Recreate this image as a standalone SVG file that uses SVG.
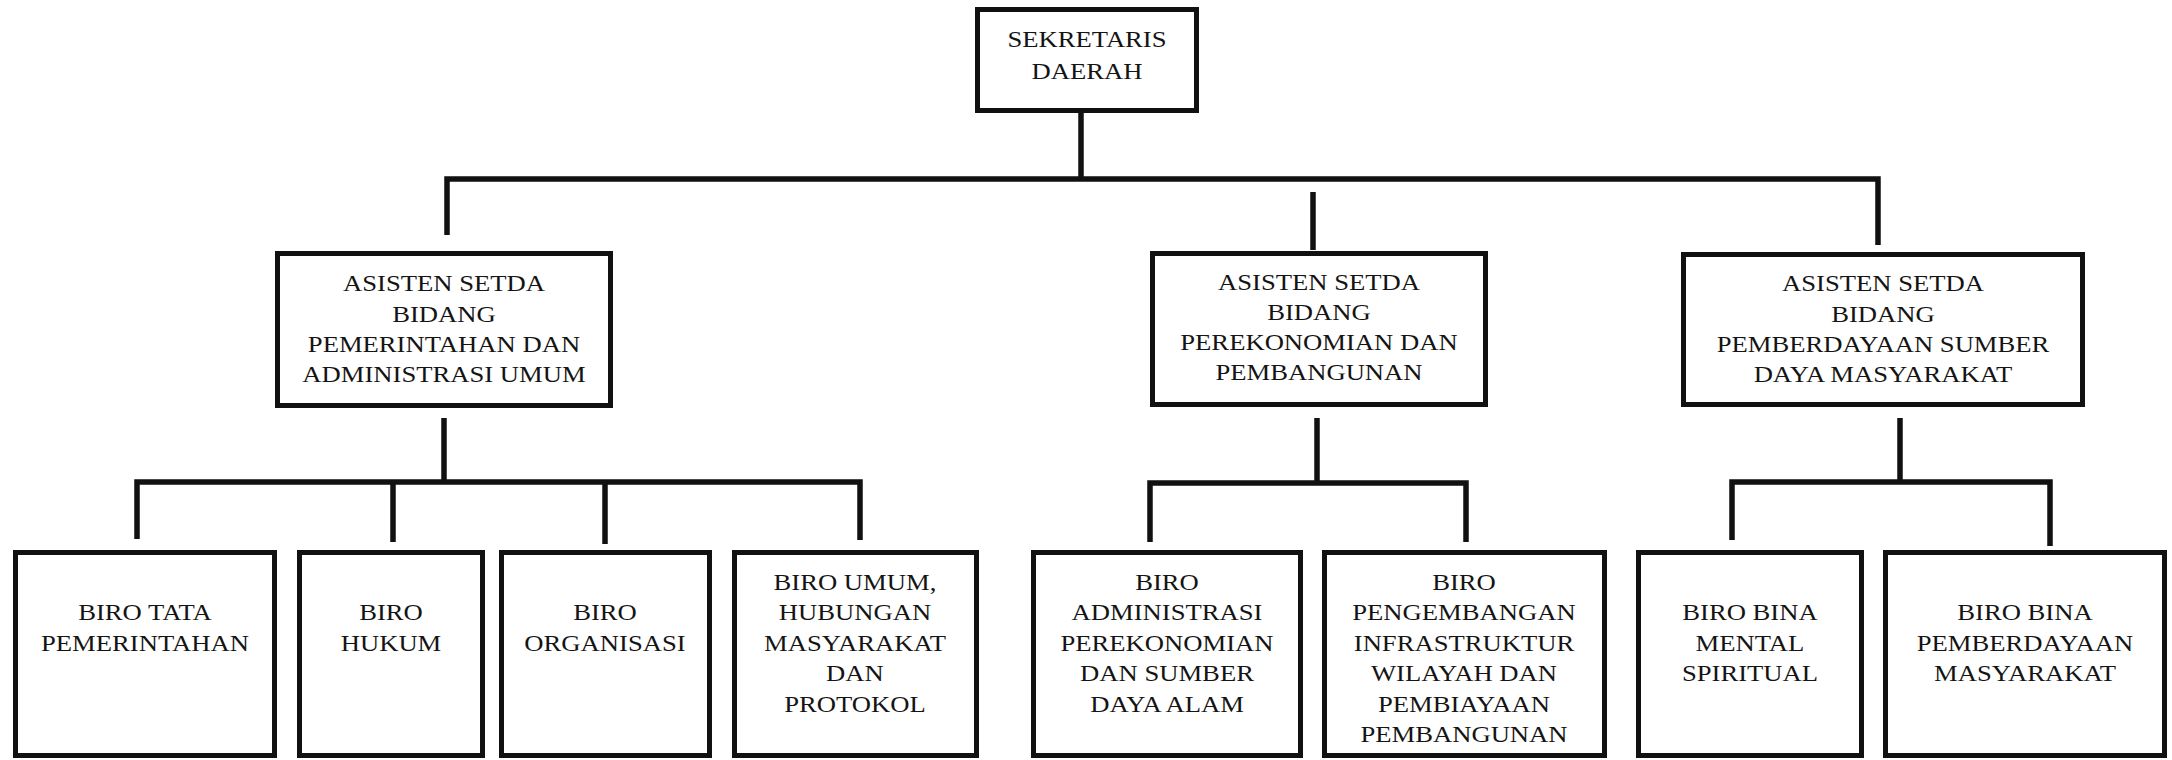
<svg xmlns="http://www.w3.org/2000/svg" width="2172" height="760" viewBox="0 0 2172 760">
  <style>
    .box { fill: #ffffff; stroke: #111111; stroke-width: 5; }
    .conn { fill: none; stroke: #111111; stroke-width: 5.5; stroke-linecap: butt; stroke-linejoin: miter; }
    .t { font-family: "Liberation Serif", "Times New Roman", serif; font-size: 24px; fill: #141414; text-anchor: middle;
         transform-box: fill-box; transform-origin: center; transform: scaleX(1.11); }
  </style>
  <rect x="0" y="0" width="2172" height="760" fill="#ffffff"/>

  <g id="connectors">
    <!-- top level -->
    <line class="conn" x1="1081" y1="111" x2="1081" y2="180"/>
    <path class="conn" d="M447,235 V179 H1878 V245"/>
    <line class="conn" x1="1313" y1="192" x2="1313" y2="250"/>
    <!-- left group -->
    <line class="conn" x1="444" y1="418" x2="444" y2="482"/>
    <path class="conn" d="M137,539 V482 H860 V540"/>
    <line class="conn" x1="393" y1="482" x2="393" y2="542"/>
    <line class="conn" x1="605" y1="482" x2="605" y2="544"/>
    <!-- middle group -->
    <line class="conn" x1="1317" y1="418" x2="1317" y2="483"/>
    <path class="conn" d="M1150,542 V483 H1466 V542"/>
    <!-- right group -->
    <line class="conn" x1="1900" y1="418" x2="1900" y2="482"/>
    <path class="conn" d="M1732,540 V482 H2050 V546"/>
  </g>

  <g id="sekretaris-daerah">
    <rect class="box" x="977.5" y="9.5" width="219" height="101"/>
    <text class="t"><tspan x="1087" y="47">SEKRETARIS</tspan><tspan x="1087" y="79">DAERAH</tspan></text>
  </g>

  <g id="asisten-pemerintahan">
    <rect class="box" x="277.5" y="253.5" width="333" height="152"/>
    <text class="t"><tspan x="444" y="291">ASISTEN SETDA</tspan><tspan x="444" y="322">BIDANG</tspan><tspan x="444" y="352">PEMERINTAHAN DAN</tspan><tspan x="444" y="382">ADMINISTRASI UMUM</tspan></text>
  </g>

  <g id="asisten-perekonomian">
    <rect class="box" x="1152.5" y="253.5" width="333" height="151"/>
    <text class="t"><tspan x="1319" y="290">ASISTEN SETDA</tspan><tspan x="1319" y="320">BIDANG</tspan><tspan x="1319" y="350">PEREKONOMIAN DAN</tspan><tspan x="1319" y="380">PEMBANGUNAN</tspan></text>
  </g>

  <g id="asisten-pemberdayaan">
    <rect class="box" x="1683.5" y="254.5" width="399" height="150"/>
    <text class="t"><tspan x="1883" y="291">ASISTEN SETDA</tspan><tspan x="1883" y="322">BIDANG</tspan><tspan x="1883" y="352">PEMBERDAYAAN SUMBER</tspan><tspan x="1883" y="382">DAYA MASYARAKAT</tspan></text>
  </g>

  <g id="biro-tata-pemerintahan">
    <rect class="box" x="15.5" y="552.5" width="259" height="203"/>
    <text class="t"><tspan x="145" y="620">BIRO TATA</tspan><tspan x="145" y="651">PEMERINTAHAN</tspan></text>
  </g>

  <g id="biro-hukum">
    <rect class="box" x="299.5" y="552.5" width="183" height="203"/>
    <text class="t"><tspan x="391" y="620">BIRO</tspan><tspan x="391" y="651">HUKUM</tspan></text>
  </g>

  <g id="biro-organisasi">
    <rect class="box" x="501.5" y="552.5" width="208" height="203"/>
    <text class="t"><tspan x="605" y="620">BIRO</tspan><tspan x="605" y="651">ORGANISASI</tspan></text>
  </g>

  <g id="biro-umum">
    <rect class="box" x="734.5" y="552.5" width="242" height="203"/>
    <text class="t"><tspan x="855" y="590">BIRO UMUM,</tspan><tspan x="855" y="620.5">HUBUNGAN</tspan><tspan x="855" y="651">MASYARAKAT</tspan><tspan x="855" y="681.5">DAN</tspan><tspan x="855" y="712">PROTOKOL</tspan></text>
  </g>

  <g id="biro-administrasi-perekonomian">
    <rect class="box" x="1033.5" y="552.5" width="267" height="203"/>
    <text class="t"><tspan x="1167" y="590">BIRO</tspan><tspan x="1167" y="620.5">ADMINISTRASI</tspan><tspan x="1167" y="651">PEREKONOMIAN</tspan><tspan x="1167" y="681.5">DAN SUMBER</tspan><tspan x="1167" y="712">DAYA ALAM</tspan></text>
  </g>

  <g id="biro-pengembangan-infrastruktur">
    <rect class="box" x="1324.5" y="552.5" width="280" height="203"/>
    <text class="t"><tspan x="1464" y="590">BIRO</tspan><tspan x="1464" y="620.5">PENGEMBANGAN</tspan><tspan x="1464" y="651">INFRASTRUKTUR</tspan><tspan x="1464" y="681.5">WILAYAH DAN</tspan><tspan x="1464" y="712">PEMBIAYAAN</tspan><tspan x="1464" y="742.5">PEMBANGUNAN</tspan></text>
  </g>

  <g id="biro-bina-mental-spiritual">
    <rect class="box" x="1638.5" y="552.5" width="223" height="203"/>
    <text class="t"><tspan x="1750" y="620">BIRO BINA</tspan><tspan x="1750" y="651">MENTAL</tspan><tspan x="1750" y="681">SPIRITUAL</tspan></text>
  </g>

  <g id="biro-bina-pemberdayaan-masyarakat">
    <rect class="box" x="1885.5" y="552.5" width="279" height="203"/>
    <text class="t"><tspan x="2025" y="620">BIRO BINA</tspan><tspan x="2025" y="651">PEMBERDAYAAN</tspan><tspan x="2025" y="681">MASYARAKAT</tspan></text>
  </g>
</svg>
